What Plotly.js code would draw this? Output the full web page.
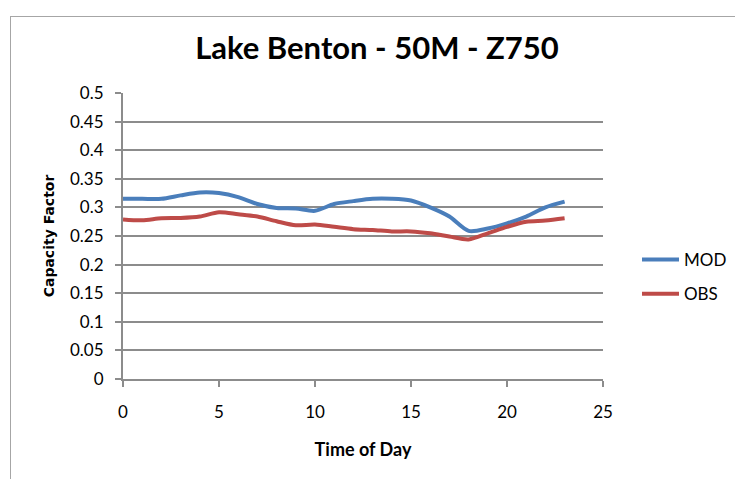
<!DOCTYPE html>
<html>
<head>
<meta charset="utf-8">
<script src="https://cdn.plot.ly/plotly-3.0.1.min.js"></script>
<style>
html,body{margin:0;padding:0;background:#fff;}
#wrap{position:relative;width:735px;height:479px;overflow:hidden;}
#chart{position:absolute;left:0;top:0;width:735px;height:479px;}
#frame{position:absolute;left:10px;top:16px;width:740px;height:480px;border:1px solid #a6a6a6;pointer-events:none;}
</style>
</head>
<body>
<div id="wrap"><div id="chart"></div><div id="frame"></div></div>
<script>
const hours = [0,1,2,3,4,5,6,7,8,9,10,11,12,13,14,15,16,17,18,19,20,21,22,23];
const modValues = [0.315,0.315,0.315,0.321,0.326,0.325,0.318,0.306,0.299,0.298,0.294,0.306,0.311,0.315,0.315,0.312,0.300,0.284,0.259,0.263,0.272,0.284,0.300,0.310];
const obsValues = [0.279,0.2775,0.281,0.2815,0.284,0.2915,0.288,0.284,0.2757,0.2687,0.270,0.266,0.262,0.2605,0.258,0.258,0.2547,0.249,0.244,0.2547,0.266,0.275,0.277,0.281];
const seriesNames = ["MOD","OBS"];
const titleText = "Lake Benton - 50M - Z750";
const xTitle = "Time of Day";
const yTitle = "Capacity Factor";

const narrow = "Lato, Carlito, 'Liberation Sans Narrow', sans-serif";

const traces = [
  {x: hours, y: modValues, name: seriesNames[0], mode: "lines", legendgroup: "a",
   line: {color: "#4a7ebb", width: 4, shape: "spline", smoothing: 0.8}},
  {x: hours, y: obsValues, name: seriesNames[1], mode: "lines", legendgroup: "b",
   line: {color: "#be4b48", width: 4, shape: "spline", smoothing: 0.8}}
];

const layout = {
  width: 735, height: 479,
  margin: {l: 123, r: 132, t: 93, b: 100, autoexpand: false},
  paper_bgcolor: "rgba(0,0,0,0)", plot_bgcolor: "rgba(0,0,0,0)",
  title: {text: "<b>" + titleText + "</b>", font: {family: narrow, size: 31, color: "#000"},
          x: (377-123)/480, xref: "paper", xanchor: "center", y: 1 - 48/479, yanchor: "middle"},
  xaxis: {range: [0, 25], dtick: 5, tick0: 0, showgrid: false, zeroline: false,
          showline: true, linecolor: "#8c8c8c", linewidth: 2,
          ticks: "outside", ticklen: 6, tickcolor: "#8c8c8c", tickwidth: 2,
          ticklabelstandoff: 11,
          tickfont: {family: narrow, size: 17, color: "#000"},
          title: {text: "<b>" + xTitle + "</b>", font: {family: narrow, size: 18, color: "#000"}, standoff: 22}},
  yaxis: {range: [0, 0.5], dtick: 0.05, tick0: 0, showgrid: true, gridcolor: "#8c8c8c", gridwidth: 2,
          zeroline: false, showline: true, linecolor: "#8c8c8c", linewidth: 2,
          ticks: "outside", ticklen: 6, tickcolor: "#8c8c8c", tickwidth: 2,
          ticklabelstandoff: 8,
          tickfont: {family: narrow, size: 17, color: "#000"},
          title: {text: "<b>" + yTitle + "</b>", font: {family: "'DejaVu Sans', Verdana, sans-serif", size: 14, color: "#000"}, standoff: 12}},
  showlegend: true,
  legend: {x: (637-123)/480, xanchor: "left", y: (379-242)/286, yanchor: "top",
           font: {family: narrow, size: 17, color: "#000"},
           tracegroupgap: 9, itemwidth: 37, bgcolor: "rgba(0,0,0,0)"}
};

Plotly.newPlot("chart", traces, layout, {displayModeBar: false, staticPlot: true});
</script>
</body>
</html>
